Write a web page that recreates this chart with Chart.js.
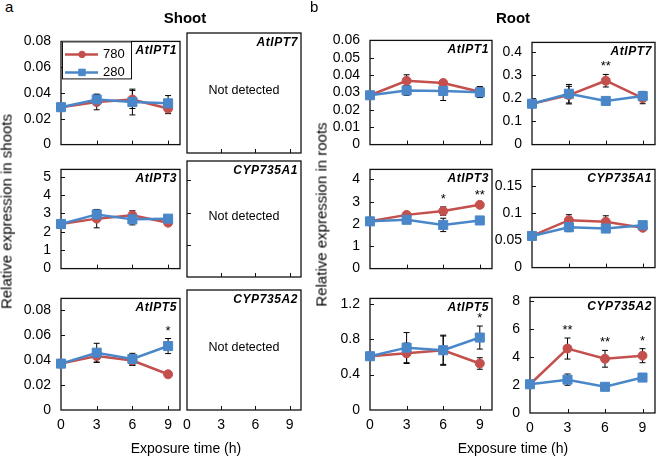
<!DOCTYPE html>
<html>
<head>
<meta charset="utf-8">
<script src="https://cdn.jsdelivr.net/npm/chart.js@4.4.0/dist/chart.umd.min.js"></script>
<style>
    body { margin: 0; background: #fff; width: 658px; height: 457px; position: relative; overflow: hidden;
           font-family: "Liberation Sans", Arial, sans-serif; color: #000; }
    canvas { position: absolute; }
    .txt { position: absolute; white-space: nowrap; line-height: 1; z-index: 2; }
    .ytitle { position: absolute; width: 300px; height: 15px; line-height: 15px; font-size: 15px;
              text-align: center; transform: rotate(-90deg); white-space: nowrap; z-index: 2; }
</style>
</head>
<body>
<div class="txt" style="left:5px;top:-1px;font-size:15px">a</div>
<div class="txt" style="left:310px;top:-1px;font-size:15px">b</div>
<div class="txt" style="left:135px;top:10px;width:100px;text-align:center;font-size:15px;font-weight:bold">Shoot</div>
<div class="txt" style="left:463px;top:10px;width:100px;text-align:center;font-size:15px;font-weight:bold">Root</div>
<div class="txt" style="left:106px;top:441px;width:160px;text-align:center;font-size:14px">Exposure time (h)</div>
<div class="txt" style="left:433px;top:441px;width:160px;text-align:center;font-size:14px">Exposure time (h)</div>
<div class="ytitle" style="left:-144.5px;top:203.5px">Relative expression in shoots</div>
<div class="ytitle" style="left:170.5px;top:206.5px">Relative expression in roots</div>

<script>
// ---- data ----
const hours = [0, 3, 6, 9];
const xTicks = [0, 3, 6, 9];

// Shoot
const shootIPT1_780 = [0.029, 0.033, 0.035, 0.028];
const shootIPT1_780_err = [0.001, 0.006, 0.007, 0.004];
const shootIPT1_280 = [0.029, 0.035, 0.033, 0.032];
const shootIPT1_280_err = [0.001, 0.004, 0.010, 0.006];

const shootIPT3_780 = [2.43, 2.72, 2.9, 2.5];
const shootIPT3_780_err = [0.05, 0.5, 0.25, 0.1];
const shootIPT3_280 = [2.43, 2.95, 2.68, 2.72];
const shootIPT3_280_err = [0.05, 0.25, 0.3, 0.15];

const shootIPT5_780 = [0.037, 0.043, 0.0395, 0.0285];
const shootIPT5_780_err = [0.001, 0.005, 0.004, 0.002];
const shootIPT5_280 = [0.037, 0.0457, 0.0407, 0.051];
const shootIPT5_280_err = [0.001, 0.0075, 0.0045, 0.006];
const shootIPT5_sig = ['', '', '', '*'];

// Root
const rootIPT1_780 = [0.0284, 0.0367, 0.0355, 0.0304];
const rootIPT1_780_err = [0.0005, 0.0035, 0.001, 0.003];
const rootIPT1_280 = [0.0284, 0.0312, 0.0309, 0.0301];
const rootIPT1_280_err = [0.0005, 0.0028, 0.0055, 0.003];

const rootIPT7_780 = [0.176, 0.213, 0.275, 0.2];
const rootIPT7_780_err = [0.005, 0.038, 0.027, 0.024];
const rootIPT7_280 = [0.176, 0.219, 0.188, 0.209];
const rootIPT7_280_err = [0.005, 0.04, 0.006, 0.02];
const rootIPT7_sig = ['', '', '**', ''];

const rootIPT3_780 = [2.12, 2.41, 2.58, 2.86];
const rootIPT3_780_err = [0.05, 0.08, 0.19, 0.08];
const rootIPT3_280 = [2.12, 2.19, 1.96, 2.16];
const rootIPT3_280_err = [0.05, 0.06, 0.3, 0.15];
const rootIPT3_sig = ['', '', '*', '**'];

const rootA1_780 = [0.058, 0.087, 0.084, 0.073];
const rootA1_780_err = [0.002, 0.01, 0.011, 0.004];
const rootA1_280 = [0.058, 0.074, 0.0716, 0.0778];
const rootA1_280_err = [0.002, 0.008, 0.004, 0.005];

const rootIPT5_780 = [0.607, 0.64, 0.675, 0.525];
const rootIPT5_780_err = [0.02, 0.115, 0.17, 0.065];
const rootIPT5_280 = [0.607, 0.704, 0.675, 0.818];
const rootIPT5_280_err = [0.02, 0.17, 0.16, 0.13];
const rootIPT5_sig = ['', '', '', '*'];

const rootA2_780 = [2.05, 4.6, 3.87, 4.09];
const rootA2_780_err = [0.1, 0.75, 0.6, 0.5];
const rootA2_280 = [2.05, 2.38, 1.87, 2.53];
const rootA2_280_err = [0.1, 0.4, 0.12, 0.2];
const rootA2_sig = ['', '**', '**', '*'];

// ---- drawing ----
const RED = '#c4504e';
const BLUE = '#4a87c9';
const FONT = '"Liberation Sans", Arial, sans-serif';
Chart.defaults.font.family = FONT;
Chart.defaults.color = '#000';

function series(label, vals, err, color, shape, order) {
    return {
        label: label,
        data: hours.map((h, i) => ({ x: h, y: vals[i] })),
        err: err,
        borderColor: color,
        backgroundColor: color,
        borderWidth: 2.5,
        pointStyle: shape,
        pointRadius: shape === 'rect' ? 6.4 : 4.5,
        pointBorderWidth: 1,
        pointBackgroundColor: color,
        pointBorderColor: color,
        tension: 0,
        clip: false,
        order: order
    };
}

function makeDecor(p) {
    return {
        id: 'decor',
        beforeDatasetsDraw(chart) {
            const { ctx, chartArea: a, scales: { x, y } } = chart;
            ctx.save();
            // frame
            ctx.strokeStyle = '#111';
            ctx.lineWidth = 1.3;
            ctx.strokeRect(a.left, a.top, a.right - a.left, a.bottom - a.top);
            // inner tick marks
            ctx.lineWidth = 1;
            ctx.beginPath();
            x.ticks.forEach(t => {
                if (t.value <= x.min || t.value >= x.max) return;
                const px = Math.round(x.getPixelForValue(t.value)) + 0.5;
                ctx.moveTo(px, a.bottom); ctx.lineTo(px, a.bottom - 4);
            });
            if (!p.noYTicks) {
                y.ticks.forEach(t => {
                    if (t.value <= y.min || t.value >= y.max) return;
                    const py = Math.round(y.getPixelForValue(t.value)) + 0.5;
                    ctx.moveTo(a.left, py); ctx.lineTo(a.left + 4, py);
                });
            }
            ctx.stroke();
            // error bars
            ctx.strokeStyle = '#000';
            ctx.lineWidth = 1;
            chart.data.datasets.forEach(ds => {
                if (!ds.err) return;
                ds.data.forEach((pt, i) => {
                    const px = x.getPixelForValue(pt.x);
                    const top = y.getPixelForValue(pt.y + ds.err[i]);
                    const bot = y.getPixelForValue(pt.y - ds.err[i]);
                    ctx.beginPath();
                    ctx.moveTo(px, top); ctx.lineTo(px, bot);
                    ctx.moveTo(px - 3, top); ctx.lineTo(px + 3, top);
                    ctx.moveTo(px - 3, bot); ctx.lineTo(px + 3, bot);
                    ctx.stroke();
                });
            });
            ctx.restore();
        },
        afterDraw(chart) {
            const { ctx, chartArea: a, scales: { x, y } } = chart;
            ctx.save();
            ctx.fillStyle = '#000';
            // gene name
            ctx.font = 'italic bold 12px ' + FONT;
            if ('letterSpacing' in ctx) ctx.letterSpacing = '0.6px';
            ctx.textAlign = 'right';
            ctx.textBaseline = 'alphabetic';
            ctx.fillText(p.gene, a.right - 3, a.top + 12.7);
            if ('letterSpacing' in ctx) ctx.letterSpacing = '0px';
            // not detected
            if (p.nd) {
                ctx.font = '12.5px ' + FONT;
                ctx.textAlign = 'center';
                ctx.textBaseline = 'middle';
                ctx.fillText('Not detected', (a.left + a.right) / 2, (a.top + a.bottom) / 2 - 2);
            }
            // significance marks
            if (p.sig) {
                ctx.font = '13px ' + FONT;
                ctx.textAlign = 'center';
                ctx.textBaseline = 'alphabetic';
                p.sig.forEach((s, i) => {
                    if (!s) return;
                    let topVal = -Infinity;
                    chart.data.datasets.forEach(ds => {
                        topVal = Math.max(topVal, ds.data[i].y + ds.err[i]);
                    });
                    ctx.fillText(s, x.getPixelForValue(hours[i]), y.getPixelForValue(topVal) - 4);
                });
            }
            // legend
            if (p.legend) {
                const lx = a.left + 1, ly = a.top, lw = 69, lh = 37;
                ctx.fillStyle = '#fff';
                ctx.fillRect(lx, ly, lw, lh);
                ctx.strokeStyle = '#111';
                ctx.lineWidth = 1;
                ctx.strokeRect(lx + 0.5, ly + 0.5, lw, lh);
                chart.data.datasets.forEach((ds, k) => {
                    const yy = ly + 13 + k * 18;
                    ctx.strokeStyle = ds.borderColor;
                    ctx.lineWidth = 2.5;
                    ctx.beginPath();
                    ctx.moveTo(lx + 3, yy); ctx.lineTo(lx + 36, yy);
                    ctx.stroke();
                    ctx.fillStyle = ds.borderColor;
                    ctx.strokeStyle = ds.borderColor;
                    ctx.lineWidth = 1;
                    Chart.helpers.drawPoint(ctx, {
                        pointStyle: ds.pointStyle, rotation: 0,
                        radius: ds.pointRadius * 0.72, borderWidth: 1
                    }, lx + 20, yy);
                    ctx.fillStyle = '#000';
                    ctx.font = '13px ' + FONT;
                    ctx.textAlign = 'left';
                    ctx.textBaseline = 'middle';
                    ctx.fillText(ds.label, lx + 41, yy + 0.5);
                });
            }
            ctx.restore();
        }
    };
}

function makePanel(p) {
    const [L, T, R, B] = p.rect;
    const yW = 52, padT = 10, padR = 8;
    const xH = p.bottom ? 28 : 10;
    const cv = document.createElement('canvas');
    cv.width = R - L + yW + padR;
    cv.height = B - T + padT + xH;
    cv.style.left = (L - yW) + 'px';
    cv.style.top = (T - padT) + 'px';
    document.body.appendChild(cv);

    const datasets = p.nd ? [] : [
        series('780', p.red, p.redErr, RED, 'circle', 2),
        series('280', p.blue, p.blueErr, BLUE, 'rect', 1)
    ];

    new Chart(cv, {
        type: 'line',
        data: { datasets: datasets },
        options: {
            responsive: false,
            animation: false,
            devicePixelRatio: 1,
            layout: { padding: { left: 0, top: padT, right: padR, bottom: 0 } },
            plugins: { legend: { display: false }, tooltip: { enabled: false } },
            scales: {
                x: {
                    type: 'linear',
                    min: 0,
                    max: 10,
                    grid: { display: false, drawTicks: false },
                    border: { display: false },
                    afterBuildTicks: s => { s.ticks = xTicks.map(v => ({ value: v })); },
                    afterFit: s => { s.height = xH; },
                    ticks: { display: !!p.bottom, padding: 7, font: { size: 14 }, color: '#000' }
                },
                y: {
                    type: 'linear',
                    min: 0,
                    max: p.yMax,
                    grid: { display: false, drawTicks: false },
                    border: { display: false },
                    afterFit: s => { s.width = yW; },
                    ticks: {
                        display: !p.nd,
                        stepSize: p.step,
                        includeBounds: false,
                        padding: 10,
                        font: { size: 14 },
                        color: '#000',
                        callback: v => String(+Number(v).toFixed(4))
                    }
                }
            }
        },
        plugins: [makeDecor(p)]
    });
}

const panels = [
    // Shoot
    { rect: [61, 33, 180, 153], yMax: 0.08, step: 0.02, gene: 'AtIPT1', legend: true,
      red: shootIPT1_780, redErr: shootIPT1_780_err, blue: shootIPT1_280, blueErr: shootIPT1_280_err },
    { rect: [187, 33, 301, 153], yMax: 1, step: 1, gene: 'AtIPT7', nd: true, noYTicks: true },
    { rect: [61, 161, 180, 277], yMax: 5.4, step: 1, gene: 'AtIPT3',
      red: shootIPT3_780, redErr: shootIPT3_780_err, blue: shootIPT3_280, blueErr: shootIPT3_280_err },
    { rect: [187, 161, 301, 277], yMax: 3.6, step: 1, gene: 'CYP735A1', nd: true },
    { rect: [61, 290, 180, 410], yMax: 0.089, step: 0.02, gene: 'AtIPT5', bottom: true, sig: shootIPT5_sig,
      red: shootIPT5_780, redErr: shootIPT5_780_err, blue: shootIPT5_280, blueErr: shootIPT5_280_err },
    { rect: [187, 290, 301, 410], yMax: 1, step: 1, gene: 'CYP735A2', nd: true, noYTicks: true, bottom: true },
    // Root
    { rect: [370, 32, 492, 153], yMax: 0.06, step: 0.01, gene: 'AtIPT1',
      red: rootIPT1_780, redErr: rootIPT1_780_err, blue: rootIPT1_280, blueErr: rootIPT1_280_err },
    { rect: [532, 34, 655, 153], yMax: 0.44, step: 0.1, gene: 'AtIPT7', sig: rootIPT7_sig,
      red: rootIPT7_780, redErr: rootIPT7_780_err, blue: rootIPT7_280, blueErr: rootIPT7_280_err },
    { rect: [370, 161, 492, 277], yMax: 4.45, step: 1, gene: 'AtIPT3', sig: rootIPT3_sig,
      red: rootIPT3_780, redErr: rootIPT3_780_err, blue: rootIPT3_280, blueErr: rootIPT3_280_err },
    { rect: [532, 161, 655, 276], yMax: 0.18, step: 0.05, gene: 'CYP735A1',
      red: rootA1_780, redErr: rootA1_780_err, blue: rootA1_280, blueErr: rootA1_280_err },
    { rect: [370, 290, 492, 410], yMax: 1.26, step: 0.4, gene: 'AtIPT5', bottom: true, sig: rootIPT5_sig,
      red: rootIPT5_780, redErr: rootIPT5_780_err, blue: rootIPT5_280, blueErr: rootIPT5_280_err },
    { rect: [530, 289, 655, 413], yMax: 8.25, step: 2, gene: 'CYP735A2', bottom: true, sig: rootA2_sig,
      red: rootA2_780, redErr: rootA2_780_err, blue: rootA2_280, blueErr: rootA2_280_err }
];

panels.forEach(makePanel);
</script>
</body>
</html>
